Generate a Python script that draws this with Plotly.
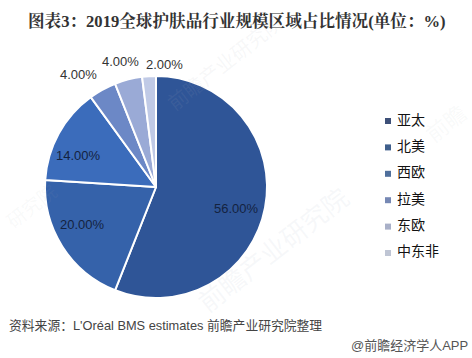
import plotly.graph_objects as go

categories = ["亚太", "北美", "西欧", "拉美", "东欧", "中东非"]
values = [56, 20, 14, 4, 4, 2]
colors = ["#2f5597", "#3562aa", "#3b6cbb", "#6c88c6", "#9aaad6", "#c0cae6"]
legend_colors = ["#3e5078", "#3f5f8c", "#4f6f9c", "#7688b4", "#a9b0c8", "#bfc5d4"]
label_x = [236, 82, 78, 78, 121, 164]
label_y = [208, 224, 155, 74, 62, 64]
label_colors = ["#14233f", "#14233f", "#14233f", "#333333", "#333333", "#333333"]
W, H = 472, 358

annotations = [
    dict(text="<b>图表3：2019全球护肤品行业规模区域占比情况(单位：%)</b>", x=26/W, y=1-21/H,
         xref="paper", yref="paper", xanchor="left", yanchor="middle", showarrow=False,
         font=dict(family="Liberation Serif, Noto Serif CJK SC, Noto Sans CJK SC", size=16.6, color="#333333")),
    dict(text="资料来源：L'Oréal BMS estimates 前瞻产业研究院整理", x=7/W, y=1-325/H,
         xref="paper", yref="paper", xanchor="left", yanchor="middle", showarrow=False,
         font=dict(family="Liberation Sans, Noto Sans CJK SC", size=12.8, color="#444444")),
    dict(text="@前瞻经济学人APP", x=470/W, y=1-345/H, xref="paper", yref="paper",
         xanchor="right", yanchor="middle", showarrow=False,
         font=dict(family="Liberation Sans, Noto Sans CJK SC", size=13, color="#555555")),
]
for wt, wx, wy, ws, wc in [("前瞻产业研究院", 225, 62, 20, "rgba(170,175,185,0.10)"),
                           ("前瞻产业研究院", 272, 248, 26, "rgba(185,195,210,0.13)"),
                           ("研究院", 30, 205, 19, "rgba(170,175,185,0.08)"),
                           ("前瞻", 445, 122, 22, "rgba(170,175,185,0.08)")]:
    annotations.append(dict(text=wt, x=wx/W, y=1-wy/H, xref="paper", yref="paper",
                            xanchor="center", yanchor="middle", textangle=-38, showarrow=False,
                            font=dict(family="Noto Sans CJK SC", size=ws, color=wc)))
for v, lx, ly, lc in zip(values, label_x, label_y, label_colors):
    annotations.append(dict(text=f"{v:.2f}%", x=lx/W, y=1-ly/H, xref="paper", yref="paper",
                            xanchor="center", yanchor="middle", showarrow=False,
                            font=dict(family="Liberation Sans", size=13, color=lc)))

fig = go.Figure()
fig.add_trace(go.Pie(
    labels=categories, values=values, sort=False, direction="clockwise", rotation=0,
    marker=dict(colors=colors, line=dict(color="white", width=2)),
    textinfo="none", automargin=False, showlegend=False, hoverinfo="label+percent",
    domain=dict(x=[45/W, 267/W], y=[1-298/H, 1-76/H]),
))
fig.add_trace(go.Scatter(
    x=[0]*len(categories), y=categories, mode="markers", showlegend=False,
    hoverinfo="skip", cliponaxis=False,
    marker=dict(symbol="square", size=6, color=legend_colors),
))
fig.add_trace(go.Scatter(
    x=[9]*len(categories), y=categories, mode="text", text=categories,
    textposition="middle right", showlegend=False, hoverinfo="skip", cliponaxis=False,
    textfont=dict(family="Noto Sans CJK SC", size=14, color="#111111"),
))
fig.update_layout(
    width=W, height=H, autosize=False, margin=dict(l=0, r=0, t=0, b=0),
    paper_bgcolor="white", plot_bgcolor="rgba(0,0,0,0)",
    xaxis=dict(domain=[388/W, 1], range=[0, 84], visible=False, fixedrange=True),
    yaxis=dict(domain=[1-266.2/H, 1-107.8/H], type="category", range=[5.5, -0.5],
               visible=False, fixedrange=True),
    font=dict(family="Noto Sans CJK SC"),
    annotations=annotations,
)
fig.write_html("out.html", post_script="document.body.style.margin='0';document.documentElement.style.overflow='hidden';",
               config={"displayModeBar": False})
